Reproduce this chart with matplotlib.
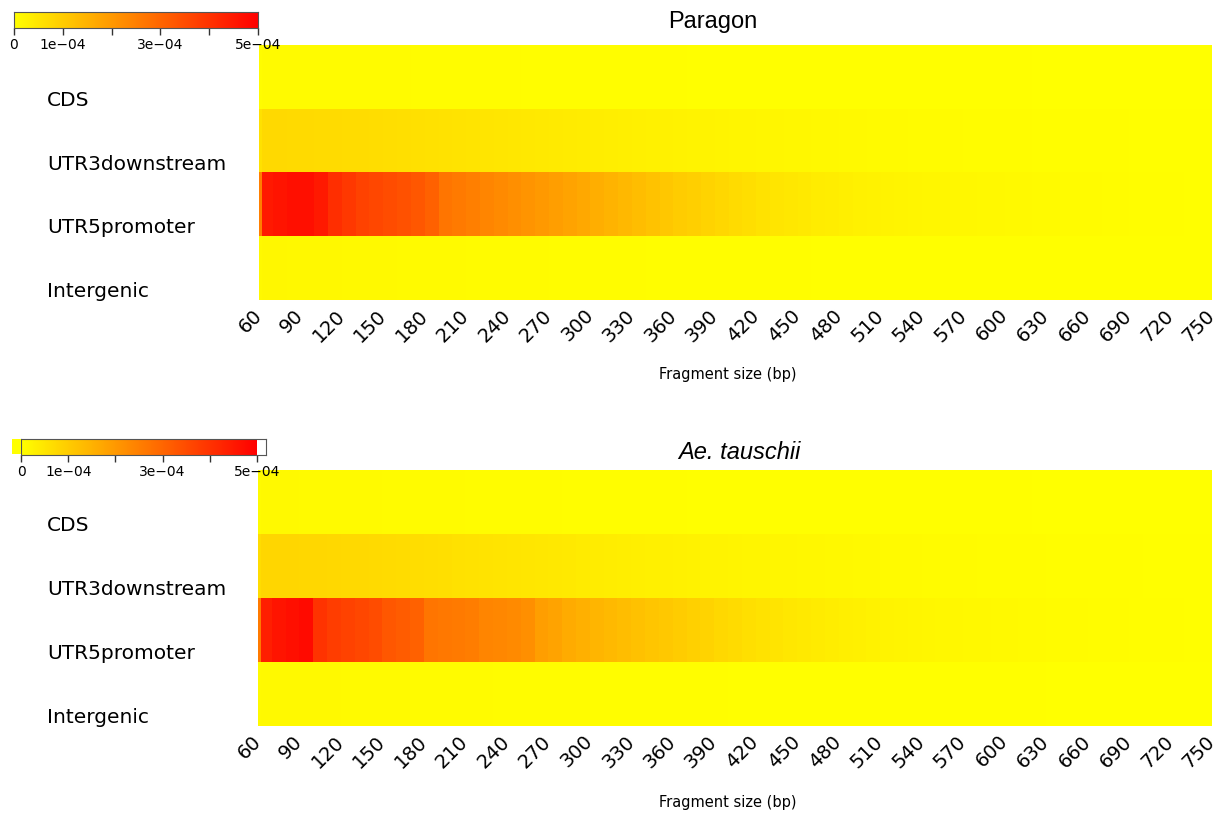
import numpy as np
import matplotlib
matplotlib.use("Agg")
import matplotlib.pyplot as plt
import matplotlib.transforms as mtransforms
from matplotlib.colors import LinearSegmentedColormap
from matplotlib.patches import Rectangle

# fragment-size bins (bp); first bin is the narrow 60 bp column
frag_edges = np.r_[60, 62, np.arange(70, 751, 10)]
regions = ["CDS", "UTR3downstream", "UTR5promoter", "Intergenic"]
tick_sizes = np.arange(60, 751, 30)

# per-bin densities, in units of 1e-5
para_cds = [0.6, 1.0, 1.0, 1.0, 0.9, 0.9, 0.9, 0.9, 0.8, 0.8,
            0.8, 0.8, 0.7, 0.7, 0.7, 0.7, 0.6, 0.6, 0.6, 0.6,
            0.5, 0.5, 0.5, 0.5, 0.5, 0.4, 0.4, 0.4, 0.4, 0.4,
            0.4, 0.4, 0.3, 0.3, 0.3, 0.3, 0.3, 0.3, 0.3, 0.3,
            0.3, 0.3, 0.3, 0.2, 0.2, 0.2, 0.2, 0.2, 0.2, 0.2,
            0.2, 0.2, 0.2, 0.2, 0.2, 0.2, 0.2, 0.1, 0.1, 0.1,
            0.1, 0.1, 0.1, 0.1, 0.1, 0.1, 0.1, 0.1, 0.1, 0.1]
para_utr3 = [6.0, 7.5, 7.5, 7.4, 7.3, 7.2, 7.1, 7.0, 6.9, 6.8,
             6.6, 6.4, 6.2, 6.0, 5.8, 5.6, 5.4, 5.2, 5.0, 4.8,
             4.6, 4.4, 4.2, 4.0, 3.8, 3.6, 3.4, 3.2, 3.0, 2.9,
             2.8, 2.6, 2.5, 2.4, 2.2, 2.1, 2.0, 1.9, 1.8, 1.7,
             1.6, 1.5, 1.4, 1.3, 1.2, 1.1, 1.0, 1.0, 0.9, 0.9,
             0.8, 0.8, 0.7, 0.7, 0.6, 0.6, 0.6, 0.5, 0.5, 0.5,
             0.4, 0.4, 0.4, 0.4, 0.3, 0.3, 0.3, 0.3, 0.3, 0.3]
para_utr5 = [25, 45, 46, 47, 47, 45, 41, 39, 37, 36,
             35, 34, 33, 31, 27, 26, 25, 24, 23, 22,
             21, 20, 19, 18, 17, 16, 15, 14, 13, 12,
             11, 10, 9.4, 8.6, 7.9, 7.2, 6.5, 5.8, 5.2, 4.8,
             4.3, 3.9, 3.6, 3.2, 2.9, 2.7, 2.5, 2.3, 2.1, 1.9,
             1.8, 1.7, 1.6, 1.5, 1.4, 1.3, 1.2, 1.1, 1.0, 0.9,
             0.85, 0.8, 0.7, 0.6, 0.5, 0.5, 0.4, 0.4, 0.3, 0.3]
para_inter = [1.2, 1.6, 1.6, 1.5, 1.5, 1.4, 1.4, 1.3, 1.3, 1.2,
              1.2, 1.1, 1.1, 1.0, 1.0, 1.0, 0.9, 0.9, 0.9, 0.8,
              0.8, 0.8, 0.7, 0.7, 0.7, 0.6, 0.6, 0.6, 0.6, 0.5,
              0.5, 0.5, 0.5, 0.5, 0.4, 0.4, 0.4, 0.4, 0.4, 0.4,
              0.4, 0.3, 0.3, 0.3, 0.3, 0.3, 0.3, 0.3, 0.3, 0.3,
              0.3, 0.3, 0.3, 0.2, 0.2, 0.2, 0.2, 0.2, 0.2, 0.2,
              0.2, 0.2, 0.2, 0.2, 0.2, 0.2, 0.2, 0.2, 0.2, 0.2]

tau_cds = [0.8, 1.2, 1.2, 1.2, 1.1, 1.1, 1.1, 1.0, 1.0, 1.0,
           0.9, 0.9, 0.9, 0.8, 0.8, 0.8, 0.7, 0.7, 0.7, 0.6,
           0.6, 0.6, 0.6, 0.5, 0.5, 0.5, 0.5, 0.4, 0.4, 0.4,
           0.4, 0.4, 0.3, 0.3, 0.3, 0.3, 0.3, 0.3, 0.3, 0.3,
           0.3, 0.3, 0.3, 0.2, 0.2, 0.2, 0.2, 0.2, 0.2, 0.2,
           0.2, 0.2, 0.2, 0.2, 0.2, 0.2, 0.2, 0.1, 0.1, 0.1,
           0.1, 0.1, 0.1, 0.1, 0.1, 0.1, 0.1, 0.1, 0.1, 0.1]
tau_utr3 = [7.0, 8.2, 8.2, 8.1, 8.0, 7.9, 7.8, 7.6, 7.5, 7.3,
            7.1, 6.9, 6.7, 6.5, 6.3, 6.0, 5.8, 5.6, 5.4, 5.2,
            5.0, 4.8, 4.6, 4.4, 4.1, 3.9, 3.7, 3.5, 3.3, 3.1,
            3.0, 2.8, 2.7, 2.5, 2.4, 2.3, 2.1, 2.0, 1.9, 1.8,
            1.7, 1.6, 1.5, 1.4, 1.3, 1.2, 1.1, 1.0, 1.0, 0.9,
            0.9, 0.8, 0.8, 0.7, 0.7, 0.6, 0.6, 0.6, 0.5, 0.5,
            0.5, 0.4, 0.4, 0.4, 0.4, 0.3, 0.3, 0.3, 0.3, 0.3]
tau_utr5 = [26, 44, 46, 47, 48, 40, 38, 37, 36, 35,
            33, 32, 31, 27, 26.5, 26, 25.5, 24, 23.5, 23,
            22, 19, 18, 16.5, 15.5, 14.5, 13.8, 13, 12.2, 11.5,
            10.8, 10, 9.3, 8.6, 7.8, 7.1, 6.4, 5.8, 5.3, 4.8,
            4.4, 4.0, 3.6, 3.3, 3.0, 2.7, 2.5, 2.3, 2.1, 1.9,
            1.7, 1.6, 1.5, 1.4, 1.3, 1.2, 1.1, 1.0, 0.9, 0.8,
            0.8, 0.7, 0.6, 0.6, 0.5, 0.5, 0.4, 0.4, 0.3, 0.3]
tau_inter = [1.0, 1.3, 1.3, 1.3, 1.2, 1.2, 1.2, 1.1, 1.1, 1.0,
             1.0, 1.0, 0.9, 0.9, 0.9, 0.8, 0.8, 0.8, 0.7, 0.7,
             0.7, 0.6, 0.6, 0.6, 0.6, 0.5, 0.5, 0.5, 0.5, 0.4,
             0.4, 0.4, 0.4, 0.4, 0.4, 0.3, 0.3, 0.3, 0.3, 0.3,
             0.3, 0.3, 0.3, 0.3, 0.2, 0.2, 0.2, 0.2, 0.2, 0.2,
             0.2, 0.2, 0.2, 0.2, 0.2, 0.2, 0.2, 0.2, 0.1, 0.1,
             0.1, 0.1, 0.1, 0.1, 0.1, 0.1, 0.1, 0.1, 0.1, 0.1]

cbar_ticks = [0, 1e-4, 2e-4, 3e-4, 4e-4, 5e-4]
cbar_labels = ["0", "1e\u221204", "", "3e\u221204", "", "5e\u221204"]

VMAX = 5e-4
cmap = LinearSegmentedColormap.from_list("yellow_red", ["#FFFF00", "#FF0000"])

W, H = 1224, 813
fig = plt.figure(figsize=(W / 100, H / 100), dpi=100)


def px_rect(x0, y0, x1, y1):
    # figure rect from pixel corners (top-left origin)
    return [x0 / W, 1 - y1 / H, (x1 - x0) / W, (y1 - y0) / H]


def draw_heatmap(rect, rows, title, title_xy, title_style, xlabel_y):
    ax = fig.add_axes(rect)
    z = np.array(rows) * 1e-5
    ax.pcolormesh(frag_edges, np.arange(len(regions) + 1), z,
                  cmap=cmap, vmin=0, vmax=VMAX, shading="flat")
    ax.set_xlim(frag_edges[0], frag_edges[-1])
    ax.set_ylim(len(regions), 0)
    for s in ax.spines.values():
        s.set_visible(False)
    ax.set_yticks([])
    ax.set_xticks(tick_sizes)
    ax.set_xticklabels([str(t) for t in tick_sizes], rotation=45,
                       ha="right", va="center", rotation_mode="anchor",
                       fontsize=14)
    ax.tick_params(axis="x", length=0, pad=9)

    trans = mtransforms.blended_transform_factory(fig.transFigure, ax.transData)
    for i, name in enumerate(regions):
        ax.text(47 / W, i + 0.87, name, transform=trans, fontsize=14.5,
                ha="left", va="center")

    fig.text(title_xy[0] / W, 1 - title_xy[1] / H, title, fontsize=17,
             family="Liberation Sans", style=title_style,
             ha="center", va="center")
    fig.text(728 / W, 1 - xlabel_y / H, "Fragment size (bp)", fontsize=10.5,
             ha="center", va="center")
    return ax


def draw_colorbar(rect, xmax):
    cax = fig.add_axes(rect)
    grad = np.linspace(0, VMAX, 256).reshape(1, -1)
    cax.imshow(grad, cmap=cmap, vmin=0, vmax=VMAX, aspect="auto",
               extent=[0, VMAX, 0, 1], interpolation="bilinear")
    cax.set_xlim(0, xmax)
    cax.set_ylim(0, 1)
    cax.set_yticks([])
    cax.set_xticks(cbar_ticks)
    cax.set_xticklabels(cbar_labels, fontsize=10)
    cax.tick_params(axis="x", length=5, width=1.0, pad=2.5, color="#333333")
    for s in cax.spines.values():
        s.set_color("#555555")
        s.set_linewidth(0.8)
    return cax


# Paragon panel
draw_heatmap(px_rect(259, 45, 1212, 300),
             [para_cds, para_utr3, para_utr5, para_inter],
             "Paragon", (713, 22), "normal", 375)
draw_colorbar(px_rect(14, 12, 258, 28), VMAX)

# Ae. tauschii panel
draw_heatmap(px_rect(258, 470, 1212, 726),
             [tau_cds, tau_utr3, tau_utr5, tau_inter],
             "Ae. tauschii", (739, 452), "italic", 802)
fig.patches.append(Rectangle((12 / W, 1 - 454 / H), 9 / W, 15 / H,
                             transform=fig.transFigure, facecolor="#FFFF00",
                             edgecolor="none", zorder=0))
draw_colorbar(px_rect(21, 439, 266, 455), VMAX * 245 / 236)

fig.savefig("out.png", dpi=100)
